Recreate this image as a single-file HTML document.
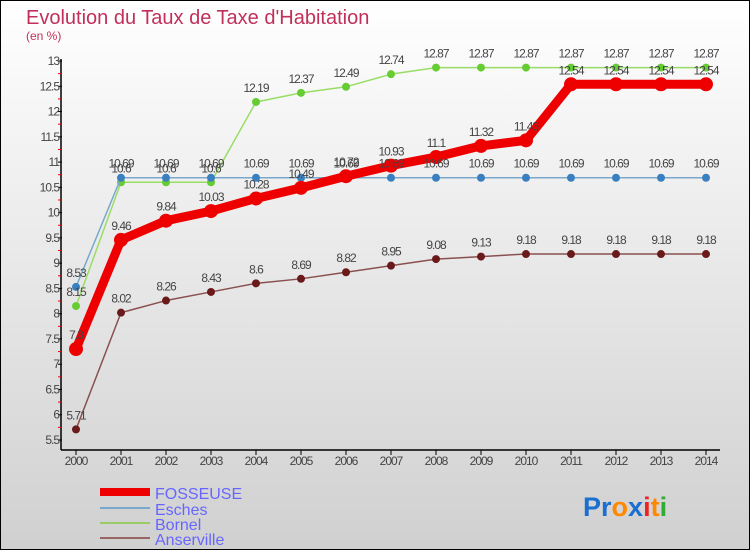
<!DOCTYPE html>
<html><head><meta charset="utf-8"><style>
body{margin:0;width:750px;height:550px;overflow:hidden}
#c{position:absolute;left:0;top:0;width:748px;height:548px;border:1px solid #000;background:linear-gradient(#fff,#d0d0d0)}
svg{position:absolute;left:0;top:0}
text{font-family:"Liberation Sans",sans-serif}
</style></head><body>
<div id="c"></div>
<svg id="s" width="750" height="550">
<text x="26" y="24" font-size="20" fill="#c0305a">Evolution du Taux de Taxe d'Habitation</text>
<text x="26" y="40" font-size="12" fill="#c0305a">(en %)</text>
<g id="ax"></g><g id="series"></g><g id="lab"></g>
<g>
<line x1="100" y1="492" x2="150" y2="492" stroke="#e00" stroke-width="8"/>
<text x="155" y="499" font-size="16" fill="#6666ff">FOSSEUSE</text>
<line x1="100" y1="508" x2="150" y2="508" stroke="#79a8cc" stroke-width="2"/>
<text x="155" y="515" font-size="16" fill="#6666ff">Esches</text>
<line x1="100" y1="523" x2="150" y2="523" stroke="#9c6" stroke-width="2"/>
<text x="155" y="530" font-size="16" fill="#6666ff">Bornel</text>
<line x1="100" y1="538" x2="150" y2="538" stroke="#966" stroke-width="2"/>
<text x="155" y="545" font-size="16" fill="#6666ff">Anserville</text>
</g>
<text x="583" y="516" font-size="27" font-weight="bold"><tspan fill="#1a6fd0">Pr</tspan><tspan fill="#f80">o</tspan><tspan fill="#1a6fd0">x</tspan><tspan fill="#e22">i</tspan><tspan fill="#f80">t</tspan><tspan fill="#3a3">i</tspan></text>
</svg>
<script>
const years=[2000,2001,2002,2003,2004,2005,2006,2007,2008,2009,2010,2011,2012,2013,2014];
const fosseuse=[7.3,9.46,9.84,10.03,10.28,10.49,10.72,10.93,11.1,11.32,11.43,12.54,12.54,12.54,12.54];
const esches=[8.53,10.69,10.69,10.69,10.69,10.69,10.69,10.69,10.69,10.69,10.69,10.69,10.69,10.69,10.69];
const bornel=[8.15,10.6,10.6,10.6,12.19,12.37,12.49,12.74,12.87,12.87,12.87,12.87,12.87,12.87,12.87];
const anserville=[5.71,8.02,8.26,8.43,8.6,8.69,8.82,8.95,9.08,9.13,9.18,9.18,9.18,9.18,9.18];
const yTicks=[5.5,6,6.5,7,7.5,8,8.5,9,9.5,10,10.5,11,11.5,12,12.5,13];
const NS='http://www.w3.org/2000/svg';
const X=i=>76+i*45, Y=v=>440-(v-5.5)*50.53;
function mk(p,t,a){const e=document.createElementNS(NS,t);for(const k in a)e.setAttribute(k,a[k]);p.appendChild(e);return e;}
const ax=document.getElementById('ax');
let l=mk(ax,'line',{x1:61,y1:59,x2:61,y2:450,stroke:'#000','stroke-width':1.5});


l=mk(ax,'line',{x1:61,y1:450,x2:720,y2:450,stroke:'#000','stroke-width':1.5});


yTicks.forEach((v,i)=>{const y=Y(v);
 mk(ax,'line',{x1:58,y1:y,x2:62,y2:y,stroke:'#000'});
 if(i<yTicks.length-1)mk(ax,'line',{x1:58,y1:Y(v+0.25),x2:61,y2:Y(v+0.25),stroke:'#e00'});
 const t=mk(ax,'text',{x:59,y:y+4,'font-size':12,'text-anchor':'end',fill:'#444','letter-spacing':'-1'});t.textContent=v;
 
 });
years.forEach((yr,i)=>{mk(ax,'line',{x1:X(i),y1:450,x2:X(i),y2:455,stroke:'#000'});
 const t=mk(ax,'text',{x:X(i),y:465,'font-size':12,'text-anchor':'middle',fill:'#444','letter-spacing':'-1'});t.textContent=yr;
 
 });
const sg=document.getElementById('series'),lg=document.getElementById('lab');
function draw(name,d,col,dot,w,r){
 const p=mk(sg,'polyline',{points:d.map((v,i)=>X(i)+','+Y(v)).join(' '),fill:'none',stroke:col,'stroke-width':w,'stroke-linejoin':'round'});
 
 
 d.forEach((v,i)=>{const c=mk(sg,'circle',{cx:X(i),cy:Y(v),r:r,fill:dot});
  
  
  const t=mk(lg,'text',{x:X(i),y:Y(v)-10,'font-size':12,'text-anchor':'middle',fill:'#444','letter-spacing':'-1'});t.textContent=v;
  
  });
}
draw('anserville',anserville,'#8a5050','#6a1a1a',1.5,4);
draw('bornel',bornel,'#9d6','#6c3',1.5,4);
draw('esches',esches,'#79a8cc','#3a80c0',1.5,4);
draw('fosseuse',fosseuse,'#e00','#e00',9,7);
</script>
</body></html>
